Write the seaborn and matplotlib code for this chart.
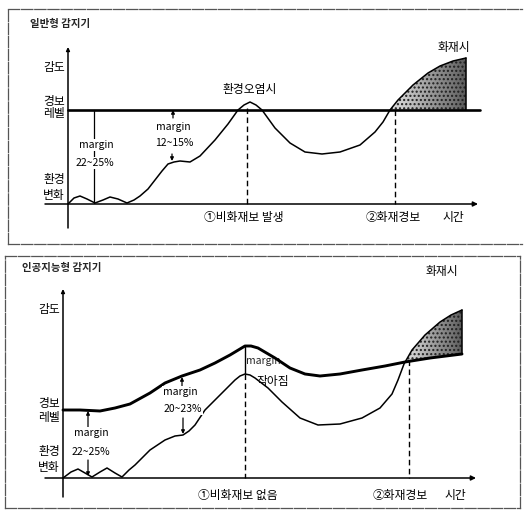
import numpy as np
import pandas as pd
import matplotlib
matplotlib.use("Agg")
import matplotlib.pyplot as plt
from matplotlib.patches import Polygon
import seaborn as sns

# ---- data (time / level units, origin = where the two axes cross) ----
# upper panel : conventional detector
top_env_t = [0, 6, 12, 19, 27, 35, 42, 50, 59, 66, 72, 80, 87, 94, 100, 106, 112, 122,
             132, 147, 160, 170, 176, 182, 188, 194, 207, 222, 237, 254, 272, 292,
             307, 315, 322, 330, 345, 360, 372, 385, 398]
top_env_v = [0, 6, 8, 5, 1, 4, 7, 5, 1, 4, 8, 15, 24, 33, 40, 42, 43, 42,
             48, 64, 80, 94, 99, 102, 99, 94, 76, 61, 52, 50, 52, 59,
             72, 82, 94, 104, 119, 131, 138, 143, 146]
top_alarm_t = [0, 412]
top_alarm_v = [94, 94]
top_fire_start = 322          # curve passes the alarm level here
top_dash_t = [179, 327]
top_dash_v = [96, 94]

# lower panel : AI detector
bot_alarm_t = [0, 17, 37, 52, 67, 87, 102, 119, 137, 152, 167, 177, 182, 188, 195,
               212, 227, 242, 257, 277, 299, 322, 342, 367, 399]
bot_alarm_v = [68, 68, 67, 70, 74, 85, 95, 102, 108, 115, 123, 129, 132, 132, 130,
               120, 110, 104, 102, 104, 108, 112, 116, 120, 124]
bot_env_t = [0, 8, 15, 22, 29, 37, 44, 52, 59, 66, 72, 87, 102, 112, 120, 126, 132,
             142, 157, 172, 177, 182, 187, 192, 205, 219, 237, 255, 277, 299, 317,
             329, 335, 341, 349, 362, 377, 388, 399]
bot_env_v = [0, 6, 9, 5, 1, 6, 10, 5, 1, 8, 13, 28, 38, 42, 43, 47, 53,
             68, 83, 98, 102, 104, 103, 100, 90, 76, 60, 53, 54, 60, 70,
             84, 98, 114, 128, 143, 156, 163, 168]
bot_fire_start = 341
bot_dash_t = [182, 346]
bot_dash_v = [104, 118]

W, H = 524, 516
sns.set_theme(style="white")
plt.rcParams['font.family'] = ['Noto Sans CJK KR', 'DejaVu Sans']

fig = plt.figure(figsize=(W / 100, H / 100), dpi=100)


def make_ax(box, origin, right=True):
    x0, y0, x1, y1 = box
    ox, oy = origin
    ax = fig.add_axes([x0 / W, 1 - y1 / H, (x1 - x0) / W, (y1 - y0) / H])
    ax.set_xlim(x0 - ox, x1 - ox)
    ax.set_ylim(oy - y1, oy - y0)
    ax.set_xticks([])
    ax.set_yticks([])
    for s in ax.spines.values():
        s.set_color('#555555')
        s.set_linewidth(0.9)
        s.set_linestyle((0, (9, 1.5)))
    ax.spines['right'].set_visible(right)
    ax.set_facecolor('white')
    return ax


def arrow(ax, x0, y0, x1, y1, lw=0.9, ms=6):
    ax.annotate('', xy=(x1, y1), xytext=(x0, y0),
                arrowprops=dict(arrowstyle='-|>', lw=lw, color='black',
                                mutation_scale=ms, shrinkA=0, shrinkB=0))


def axes_frame(ax, xmin, xmax, ymin, ymax):
    arrow(ax, xmin, 0, xmax, 0, lw=1.1, ms=7)
    arrow(ax, 0, ymin, 0, ymax, lw=1.1, ms=5)


def fire_fill(ax, xs, ys):
    xy = np.column_stack([xs, ys])
    base = Polygon(xy, closed=True, facecolor='#e8e8e8', lw=0, zorder=1)
    ax.add_patch(base)
    grad = np.linspace(0, 1, 64).reshape(1, -1)
    im = ax.imshow(grad, cmap='Greys', vmin=-0.4, vmax=1.3, alpha=0.8,
                   extent=(min(xs), max(xs), min(ys), max(ys)),
                   aspect='auto', zorder=1.5)
    im.set_clip_path(base)
    dots = Polygon(xy, closed=True, facecolor='none', edgecolor='#202020',
                   hatch='....', lw=0, zorder=2)
    ax.add_patch(dots)


def curve(ax, t, v, lw):
    sns.lineplot(x=t, y=v, ax=ax, color='black', lw=lw, sort=False,
                 estimator=None, zorder=3)


kor = dict(fontsize=8.5, color='black', fontweight='medium')
small = dict(fontsize=7.5, color='black', ha='center', va='center',
             bbox=dict(fc='white', ec='none', pad=0.6), zorder=4)

# ---------------- upper panel ----------------
ax = make_ax((8, 9, 522, 244), (68, 204), right=False)
et = np.array(top_env_t)
ev = np.array(top_env_v)
m = et >= top_fire_start
fx = list(et[m]) + [et[m][-1]]
fy = list(ev[m]) + [top_alarm_v[0]]
fire_fill(ax, fx, fy)
ax.plot([et[-1], et[-1]], [ev[-1], top_alarm_v[0]], color='black', lw=1.1)
curve(ax, top_alarm_t, top_alarm_v, 1.9)
curve(ax, top_env_t, top_env_v, 1.1)
axes_frame(ax, -23, 410, -24, 157)
for t, v in zip(top_dash_t, top_dash_v):
    ax.plot([t, t], [v, 0], color='black', lw=1.0, ls=(0, (4, 2.5)))

ax.text(-38, 180, '일반형 감지기', fontsize=7.5, fontweight='bold', va='center')
ax.text(-3, 137, '감도', ha='right', va='center', **kor)
ax.text(-3, 103, '경보', ha='right', va='center', **kor)
ax.text(-3, 90, '레벨', ha='right', va='center', **kor)
ax.text(-3, 25, '환경', ha='right', va='center', **kor)
ax.text(-3, 8, '변화', ha='right', va='center', **kor)
ax.text(182, 115, '환경오염시', ha='center', va='center', **kor)
ax.text(386, 156, '화재시', ha='center', va='center', **kor)
ax.text(176, -13, '①비화재보 발생', ha='center', va='center', **kor)
ax.text(325, -13, '②화재경보', ha='center', va='center', **kor)
ax.text(385, -13, '시간', ha='center', va='center', **kor)

# margin 22~25%
ax.plot([26, 26], [94, 1], color='black', lw=0.9, zorder=2)
ax.text(28, 59, 'margin', **small)
ax.text(27, 41, '22~25%', **small)
# margin 12~15%
arrow(ax, 105, 86, 105, 94, ms=5)
arrow(ax, 104, 50, 104, 43, ms=5)
ax.text(105, 77, 'margin', **small)
ax.text(106, 61, '12~15%', **small)

# ---------------- lower panel ----------------
ax = make_ax((5, 256, 520, 508), (63, 478))
bt = np.array(bot_env_t)
bv = np.array(bot_env_v)
at = np.array(bot_alarm_t)
av = np.array(bot_alarm_v)
m1 = bt >= bot_fire_start
m2 = at >= bot_fire_start
fx = list(bt[m1]) + list(at[m2][::-1])
fy = list(bv[m1]) + list(av[m2][::-1])
fire_fill(ax, fx, fy)
ax.plot([bt[-1], bt[-1]], [bv[-1], av[-1]], color='black', lw=1.1)
curve(ax, bot_alarm_t, bot_alarm_v, 2.1)
curve(ax, bot_env_t, bot_env_v, 1.1)
axes_frame(ax, -18, 413, -19, 189)
for t, v in zip(bot_dash_t, bot_dash_v):
    ax.plot([t, t], [v, 0], color='black', lw=1.0, ls=(0, (4, 2.5)))

ax.text(-41, 210, '인공지능형 감지기', fontsize=7.5, fontweight='bold', va='center')
ax.text(-3, 169, '감도', ha='right', va='center', **kor)
ax.text(-3, 75, '경보', ha='right', va='center', **kor)
ax.text(-3, 61, '레벨', ha='right', va='center', **kor)
ax.text(-3, 26, '환경', ha='right', va='center', **kor)
ax.text(-3, 10, '변화', ha='right', va='center', **kor)
ax.text(379, 206, '화재시', ha='center', va='center', **kor)
ax.text(175, -17, '①비화재보 없음', ha='center', va='center', **kor)
ax.text(337, -17, '②화재경보', ha='center', va='center', **kor)
ax.text(392, -17, '시간', ha='center', va='center', **kor)

# margin 22~25%
arrow(ax, 25, 40, 25, 67, ms=5)
arrow(ax, 25, 18, 25, 2, ms=5)
ax.text(28, 45, 'margin', **small)
ax.text(28, 26, '22~25%', **small)
# margin 20~23%
arrow(ax, 119, 92, 119, 101, ms=5)
arrow(ax, 120, 60, 120, 44, ms=5)
ax.text(117, 86, 'margin', **small)
ax.text(120, 69, '20~23%', **small)
# margin at the peak
ax.plot([182, 182], [131, 105], color='black', lw=1.0)
ax.text(200, 117, 'margin', fontsize=7.5, ha='center', va='center', zorder=2)
ax.text(210, 97, '작아짐', ha='center', va='center', **kor)

fig.savefig('out.png', dpi=100, facecolor='white')
